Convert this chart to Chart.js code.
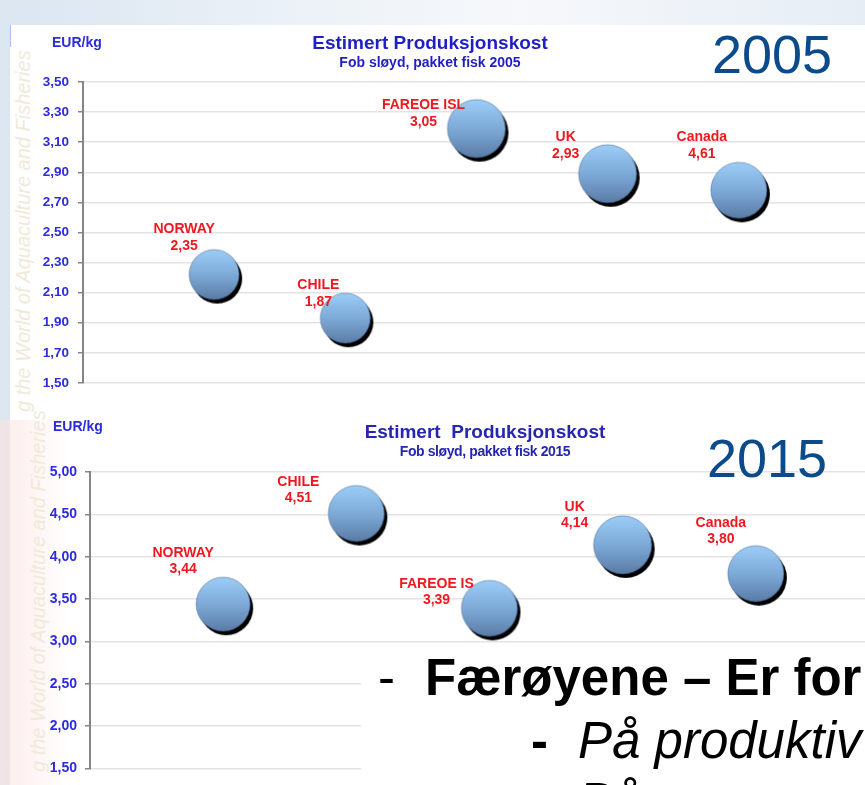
<!DOCTYPE html>
<html>
<head>
<meta charset="utf-8">
<script src="https://cdn.jsdelivr.net/npm/chart.js@4/dist/chart.umd.min.js"></script>
<style>
  html, body { margin: 0; padding: 0; }
  body {
    width: 865px; height: 785px; overflow: hidden; position: relative;
    background: linear-gradient(90deg, #dbe6f1 0%, #eef3f8 40%, #f6f8fb 60%, #e6edf5 100%);
    font-family: Arial, "Liberation Sans", sans-serif;
  }
  .panel { position: absolute; left: 10px; top: 25px; width: 855px; height: 760px; background: #fff; }
  .edge { position: absolute; left: 10px; top: 25px; width: 1px; height: 22px; background: #a9c6ea; }
  .pink { position: absolute; left: 0; top: 420px; width: 70px; height: 365px;
          background: linear-gradient(90deg, rgba(250,228,226,0.7), rgba(255,255,255,0)); }
  .mark { position: absolute; white-space: nowrap; font-style: italic; font-size: 20px;
          color: #f1e9d9; transform: rotate(-90deg); transform-origin: left top; }
  canvas { position: absolute; left: 0; }
  .unit { position: absolute; font-weight: bold; font-size: 14px; color: #2b2be0; }
  .title { position: absolute; width: 400px; text-align: center; font-weight: bold; color: #1f1fc4; }
  .year { position: absolute; font-size: 54px; color: #0b4a8b; line-height: 54px; }
  .slide { position: absolute; left: 361px; top: 648px; width: 510px; height: 140px; background: #fff; }
  .line { position: absolute; font-size: 51px; line-height: 50px; color: #000; white-space: nowrap; }
</style>
</head>
<body>
<div class="panel"></div>
<div class="edge"></div>
<div class="pink"></div>
<div class="mark" style="left:12px; top:412px;">g the World of Aquaculture and Fisheries</div>
<div class="mark" style="left:27px; top:772px;">g the World of Aquaculture and Fisheries</div>

<canvas id="chart2005"></canvas>
<canvas id="chart2015"></canvas>

<div class="unit" style="left:52px; top:34px;">EUR/kg</div>
<div class="title" style="left:230px; top:32px; font-size:19px;">Estimert Produksjonskost</div>
<div class="title" style="left:230px; top:54px; font-size:14px;">Fob sløyd, pakket fisk&nbsp;2005</div>
<div class="year" style="left:712px; top:27px;">2005</div>

<div class="unit" style="left:53px; top:418px;">EUR/kg</div>
<div class="title" style="left:285px; top:421px; font-size:19px; color:#2626b0;">Estimert&nbsp; Produksjonskost</div>
<div class="title" style="left:285px; top:443px; font-size:14px; letter-spacing:-0.4px; color:#2626b0;">Fob sløyd, pakket fisk&nbsp;2015</div>
<div class="year" style="left:707px; top:431px;">2015</div>

<div class="slide">
  <div class="line" style="left:17px; top:5px;">-</div>
  <div class="line" style="left:64px; top:5px; font-weight:bold;">Færøyene – Er for</div>
  <div class="line" style="left:170px; top:68px; font-weight:bold;">-</div>
  <div class="line" style="left:217px; top:68px; font-style:italic;">På produktiv</div>
  <div class="line" style="left:170px; top:129px; font-weight:bold;">-</div>
  <div class="line" style="left:217px; top:129px; font-style:italic;">På</div>
</div>

<script>
// land i begge diagrammene
const countries2005 = ['NORWAY', 'CHILE', 'FAREOE ISL', 'UK', 'Canada'];
const countries2015 = ['NORWAY', 'CHILE', 'FAREOE IS', 'UK', 'Canada'];

// 2005: boblenes plassering (EUR/kg) og tallene som står i etikettene
const cost2005 = [2.22, 1.93, 3.19, 2.89, 2.78];
const labels2005 = [2.35, 1.87, 3.05, 2.93, 4.61];

// 2015: etikettene viser samme verdi som boblene
const cost2015 = [3.44, 4.51, 3.39, 4.14, 3.80];

// y-aksene
const ticks2005 = [1.5, 1.7, 1.9, 2.1, 2.3, 2.5, 2.7, 2.9, 3.1, 3.3, 3.5];
const ticks2015 = [1.5, 2.0, 2.5, 3.0, 3.5, 4.0, 4.5, 5.0];

const fmt = (v) => v.toFixed(2).replace('.', ',');

// lager en blå boble med svart skygge som pointStyle
const makeBubble = (r) => {
  const size = (r + 6) * 2;
  const c = document.createElement('canvas');
  c.width = size;
  c.height = size;
  const g = c.getContext('2d');
  const m = size / 2;
  g.beginPath();
  g.arc(m + 3, m + 4, r, 0, Math.PI * 2);
  g.fillStyle = '#000';
  g.fill();
  const grad = g.createLinearGradient(0, m - r, 0, m + r);
  grad.addColorStop(0, '#9ccdf8');
  grad.addColorStop(0.5, '#7eaad8');
  grad.addColorStop(1, '#5a7ca6');
  g.beginPath();
  g.arc(m, m, r, 0, Math.PI * 2);
  g.fillStyle = grad;
  g.fill();
  g.strokeStyle = 'rgba(60,90,130,0.5)';
  g.lineWidth = 1;
  g.stroke();
  return c;
};

// røde etiketter: navn og tall over boblen
const labelPlugin = {
  id: 'countryLabels',
  afterDatasetsDraw(chart, args, opts) {
    const ctx = chart.ctx;
    const meta = chart.getDatasetMeta(0);
    ctx.save();
    ctx.fillStyle = '#f01820';
    ctx.font = 'bold 14px Arial, "Liberation Sans", sans-serif';
    ctx.textAlign = 'center';
    ctx.textBaseline = 'middle';
    meta.data.forEach((pt, i) => {
      const [dx, dy] = opts.offsets[i];
      ctx.fillText(opts.names[i], pt.x + dx, pt.y + dy);
      ctx.fillText(fmt(opts.values[i]), pt.x + dx, pt.y + dy + opts.gap);
    });
    ctx.restore();
  },
};

const buildChart = (id, cfg) => {
  const canvas = document.getElementById(id);
  canvas.style.top = cfg.top + 'px';
  canvas.width = cfg.width;
  canvas.height = cfg.height;
  const bubbles = cfg.radius.map((r) => makeBubble(r));

  return new Chart(canvas, {
    type: 'scatter',
    data: {
      datasets: [
        {
          data: cfg.values.map((v, i) => ({ x: i + 1, y: v })),
          pointStyle: (ctx) => bubbles[ctx.dataIndex],
        },
      ],
    },
    plugins: [labelPlugin],
    options: {
      responsive: false,
      animation: false,
      layout: { padding: { top: cfg.padTop, bottom: cfg.padBottom, left: 0, right: 0 } },
      plugins: {
        legend: { display: false },
        tooltip: { enabled: false },
        countryLabels: { names: cfg.names, values: cfg.labelValues, offsets: cfg.offsets, gap: cfg.gap },
      },
      scales: {
        x: { type: 'linear', min: 0, max: 6, display: false },
        y: {
          min: cfg.ticks[0],
          max: cfg.ticks[cfg.ticks.length - 1],
          afterFit: (scale) => { scale.width = cfg.axisX; },
          afterBuildTicks: (scale) => { scale.ticks = cfg.ticks.map((v) => ({ value: v })); },
          border: { color: '#858585', width: 2 },
          grid: { color: '#e3e3e3', lineWidth: 1.5, tickColor: '#858585', tickLength: 5 },
          ticks: {
            padding: cfg.tickPad,
            color: '#2b2be0',
            font: { family: 'Arial, "Liberation Sans", sans-serif', size: cfg.tickSize, weight: 'bold' },
            callback: (v) => fmt(v),
          },
        },
      },
    },
  });
};

buildChart('chart2005', {
  top: 0, width: 875, height: 400, padTop: 82, padBottom: 9,
  axisX: 83, tickPad: 9, tickSize: 13.5,
  ticks: ticks2005,
  values: cost2005,
  names: countries2005,
  labelValues: labels2005,
  radius: [25, 25, 29, 29, 28],
  offsets: [[-30, -45], [-27, -33], [-53, -23], [-42, -37], [-37, -53]],
  gap: 17,
});

buildChart('chart2015', {
  top: 400, width: 894, height: 385, padTop: 72, padBottom: 16,
  axisX: 90, tickPad: 8, tickSize: 14,
  ticks: ticks2015,
  values: cost2015,
  names: countries2015,
  labelValues: cost2015,
  radius: [27, 28, 28, 29, 28],
  offsets: [[-40, -51], [-58, -31], [-53, -24], [-48, -38], [-35, -51]],
  gap: 16,
});
</script>
</body>
</html>
